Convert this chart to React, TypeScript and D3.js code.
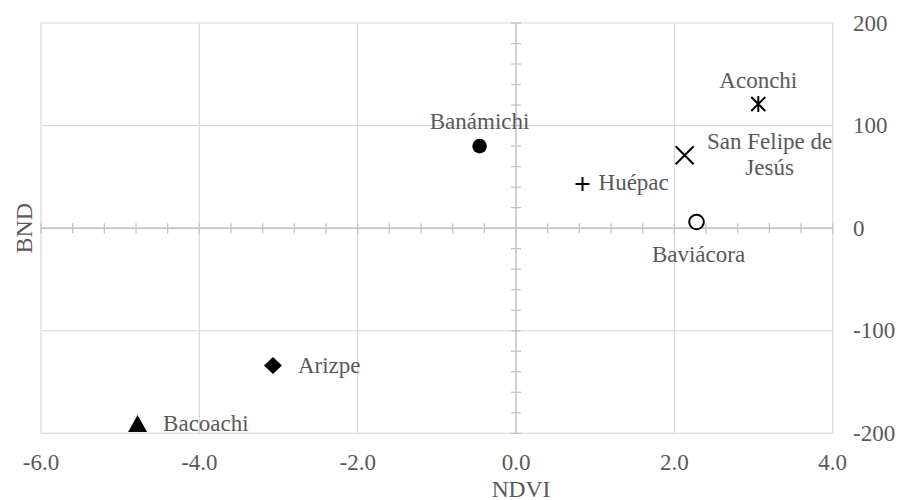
import React from "react";
import * as d3 from "d3";

const sites = ["Banámichi", "Huépac", "San Felipe de Jesús", "Aconchi", "Baviácora", "Arizpe", "Bacoachi"];
const ndviValues = [-0.46, 0.84, 2.13, 3.06, 2.28, -3.07, -4.78];
const bndValues = [80, 43, 71, 121, 6, -134, -192];
const markerKinds = ["dot", "plus", "cross", "star", "ring", "diamond", "triangle"];
const labelPlacement = ["above", "right", "rightTwoLine", "above", "below", "right", "right"];
const xTicks = [-6, -4, -2, 0, 2, 4];
const yTicks = [-200, -100, 0, 100, 200];

const W = 901;
const H = 500;
const FONT = "'Liberation Serif', 'Times New Roman', serif";
const TEXT = "#595959";
const FS = 23;

// label offsets (layout only)
const labelOffsets: Record<string, [number, number]> = {
  "Banámichi": [0, -17.5],
  "Aconchi": [0, -16],
  "Baviácora": [2, 40],
  "Huépac": [16, 6],
  "Arizpe": [25, 7],
  "Bacoachi": [25.5, 6],
  "San Felipe de Jesús": [85, -6.7],
};

export default function App() {
  const x = d3.scaleLinear().domain([-6, 4]).range([41, 832.7]);
  const y = d3.scaleLinear().domain([-200, 200]).range([433.3, 23]);
  const x0 = x(0);
  const y0 = y(0);
  const minorX = d3.range(-6, 4.0001, 0.4);
  const minorY = d3.range(-200, 200.0001, 20);

  const marker = (kind: string, cx: number, cy: number, i: number) => {
    switch (kind) {
      case "dot":
        return <circle key={i} cx={cx} cy={cy} r={7.3} fill="#000" />;
      case "ring":
        return <circle key={i} cx={cx} cy={cy} r={7.3} fill="#fff" stroke="#000" strokeWidth={2} />;
      case "plus":
        return (
          <path key={i} d={`M${cx - 7},${cy}H${cx + 7}M${cx},${cy - 7}V${cy + 7}`} stroke="#000" strokeWidth={2} />
        );
      case "cross":
        return (
          <path key={i} d={`M${cx - 9},${cy - 9}L${cx + 9},${cy + 9}M${cx - 9},${cy + 9}L${cx + 9},${cy - 9}`} stroke="#000" strokeWidth={2} />
        );
      case "star":
        return (
          <path key={i} d={`M${cx - 7},${cy - 7}L${cx + 7},${cy + 7}M${cx - 7},${cy + 7}L${cx + 7},${cy - 7}M${cx},${cy - 8}V${cy + 8}`} stroke="#000" strokeWidth={2} />
        );
      case "diamond":
        return <path key={i} d={`M${cx},${cy - 8.5}L${cx + 9},${cy}L${cx},${cy + 8.5}L${cx - 9},${cy}Z`} fill="#000" />;
      case "triangle":
        return <path key={i} d={`M${cx},${cy - 10}L${cx + 9.5},${cy + 7}L${cx - 9.5},${cy + 7}Z`} fill="#000" />;
      default:
        return null;
    }
  };

  const label = (name: string, place: string, cx: number, cy: number, i: number) => {
    const common = { fontFamily: FONT, fontSize: FS, fill: TEXT } as const;
    const [dx, dy] = labelOffsets[name] || [0, 0];
    if (place === "above" || place === "below") {
      return <text key={i} {...common} x={cx + dx} y={cy + dy} textAnchor="middle">{name}</text>;
    }
    if (place === "rightTwoLine") {
      const words = name.split(" ");
      const l1 = words.slice(0, 3).join(" ");
      const l2 = words.slice(3).join(" ");
      return (
        <text key={i} {...common} x={cx + dx} y={cy + dy} textAnchor="middle">
          <tspan x={cx + dx}>{l1}</tspan>
          <tspan x={cx + dx} dy={26.7}>{l2}</tspan>
        </text>
      );
    }
    return <text key={i} {...common} x={cx + dx} y={cy + dy}>{name}</text>;
  };

  return (
    <svg width={W} height={H} style={{ position: "absolute", left: 0, top: 0, background: "#fff" }}>
      <rect width={W} height={H} fill="#fff" />
      {xTicks.filter((t) => t !== 0).map((t) => (
        <line key={"gx" + t} x1={x(t)} x2={x(t)} y1={y(200)} y2={y(-200)} stroke="#d9d9d9" strokeWidth={1.2} />
      ))}
      {yTicks.filter((t) => t !== 0).map((t) => (
        <line key={"gy" + t} x1={x(-6)} x2={x(4)} y1={y(t)} y2={y(t)} stroke="#d9d9d9" strokeWidth={1.2} />
      ))}
      <line x1={x(-6)} x2={x(4)} y1={y0} y2={y0} stroke="#c4c4c4" strokeWidth={1.6} />
      <line x1={x0} x2={x0} y1={y(200)} y2={y(-200)} stroke="#c4c4c4" strokeWidth={1.6} />
      {minorX.map((t, i) => (
        <line key={"mx" + i} x1={x(t)} x2={x(t)} y1={y0 - 5} y2={y0 + 5} stroke="#c4c4c4" strokeWidth={1.3} />
      ))}
      {minorY.map((t, i) => (
        <line key={"my" + i} x1={x0 - 5} x2={x0 + 5} y1={y(t)} y2={y(t)} stroke="#c4c4c4" strokeWidth={1.3} />
      ))}
      {xTicks.map((t) => (
        <text key={"xl" + t} x={x(t)} y={470} textAnchor="middle" fontFamily={FONT} fontSize={FS} fill={TEXT}>
          {t.toFixed(1)}
        </text>
      ))}
      {yTicks.map((t) => (
        <text key={"yl" + t} x={853} y={y(t) + 7.7} fontFamily={FONT} fontSize={FS} fill={TEXT}>
          {String(t)}
        </text>
      ))}
      <text x={x0 + 5} y={496.5} textAnchor="middle" fontFamily={FONT} fontSize={23.5} fill={TEXT}>NDVI</text>
      <text transform={`translate(32,${y0}) rotate(-90)`} textAnchor="middle" fontFamily={FONT} fontSize={24} fill={TEXT}>BND</text>
      {sites.map((s, i) => marker(markerKinds[i], x(ndviValues[i]), y(bndValues[i]), i))}
      {sites.map((s, i) => label(s, labelPlacement[i], x(ndviValues[i]), y(bndValues[i]), i))}
    </svg>
  );
}
